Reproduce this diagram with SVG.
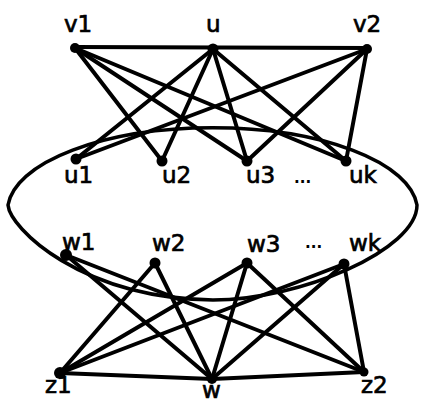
<svg xmlns="http://www.w3.org/2000/svg" width="423" height="403" viewBox="0 0 423 403">
<style>
.e{stroke:#000;stroke-width:4;stroke-linecap:round;fill:none}
.ring{stroke:#000;stroke-width:3.5;fill:none}
.d{fill:#000}
.t{font-family:"DejaVu Sans",sans-serif;font-size:23px;fill:#000;stroke:#000;stroke-width:0.7}
.dots{font-family:"DejaVu Sans",sans-serif;font-size:15px;font-weight:bold;fill:#000}
</style>
<rect width="423" height="403" fill="#fff"/>
<path id="ring" class="ring" d="M8,205 A205,83 0 0 1 417,205 C417,250 300,300 213,300 C80,298 10,228 8,205 Z"/>
<g id="connectors">
<line class="e" x1="75" y1="47" x2="368" y2="48"/>
<line class="e" x1="75" y1="48" x2="162" y2="161"/>
<line class="e" x1="75" y1="48" x2="247" y2="161"/>
<line class="e" x1="75" y1="48" x2="346" y2="161"/>
<line class="e" x1="213" y1="49" x2="76" y2="159"/>
<line class="e" x1="213" y1="49" x2="162" y2="161"/>
<line class="e" x1="213" y1="49" x2="247" y2="161"/>
<line class="e" x1="213" y1="49" x2="346" y2="161"/>
<line class="e" x1="367" y1="49" x2="76" y2="159"/>
<line class="e" x1="367" y1="49" x2="247" y2="161"/>
<line class="e" x1="367" y1="49" x2="346" y2="161"/>
<line class="e" x1="60" y1="373" x2="212" y2="379"/>
<line class="e" x1="212" y1="379" x2="364" y2="372"/>
<line class="e" x1="66" y1="255" x2="212" y2="379"/>
<line class="e" x1="66" y1="255" x2="364" y2="372"/>
<line class="e" x1="155" y1="263" x2="60" y2="373"/>
<line class="e" x1="155" y1="263" x2="212" y2="379"/>
<line class="e" x1="247" y1="263" x2="60" y2="373"/>
<line class="e" x1="247" y1="263" x2="212" y2="379"/>
<line class="e" x1="247" y1="263" x2="364" y2="372"/>
<line class="e" x1="344" y1="264" x2="60" y2="373"/>
<line class="e" x1="344" y1="264" x2="212" y2="379"/>
<line class="e" x1="344" y1="264" x2="364" y2="372"/>
</g>
<g id="v1"><circle class="d" cx="75" cy="48" r="5"/><text class="t" x="64" y="32">v1</text></g>
<g id="u"><circle class="d" cx="213" cy="49" r="5.5"/><text class="t" x="206" y="32">u</text></g>
<g id="v2"><circle class="d" cx="367" cy="49" r="5"/><text class="t" x="353" y="32">v2</text></g>
<g id="u1"><circle class="d" cx="76" cy="159" r="5.5"/><text class="t" x="64" y="183">u1</text></g>
<g id="u2"><circle class="d" cx="162" cy="161" r="5.5"/><text class="t" x="162" y="183">u2</text></g>
<g id="u3"><circle class="d" cx="247" cy="161" r="5.5"/><text class="t" x="246" y="183">u3</text></g>
<text class="dots" x="294" y="183">...</text>
<g id="uk"><circle class="d" cx="346" cy="161" r="5.5"/><text class="t" x="349" y="183">uk</text></g>
<g id="w1"><circle class="d" cx="66" cy="255" r="6"/><text class="t" x="62" y="250">w1</text></g>
<g id="w2"><circle class="d" cx="155" cy="263" r="5.5"/><text class="t" x="152" y="251">w2</text></g>
<g id="w3"><circle class="d" cx="247" cy="263" r="5.5"/><text class="t" x="247" y="252">w3</text></g>
<text class="dots" x="305" y="248">...</text>
<g id="wk"><circle class="d" cx="344" cy="264" r="5.5"/><text class="t" x="349" y="251">wk</text></g>
<g id="z1"><circle class="d" cx="60" cy="373" r="6"/><text class="t" x="45" y="393">z1</text></g>
<g id="w"><circle class="d" cx="212" cy="379" r="5"/><text class="t" x="202" y="398">w</text></g>
<g id="z2"><circle class="d" cx="364" cy="372" r="4.5"/><text class="t" x="361" y="393">z2</text></g>
</svg>
